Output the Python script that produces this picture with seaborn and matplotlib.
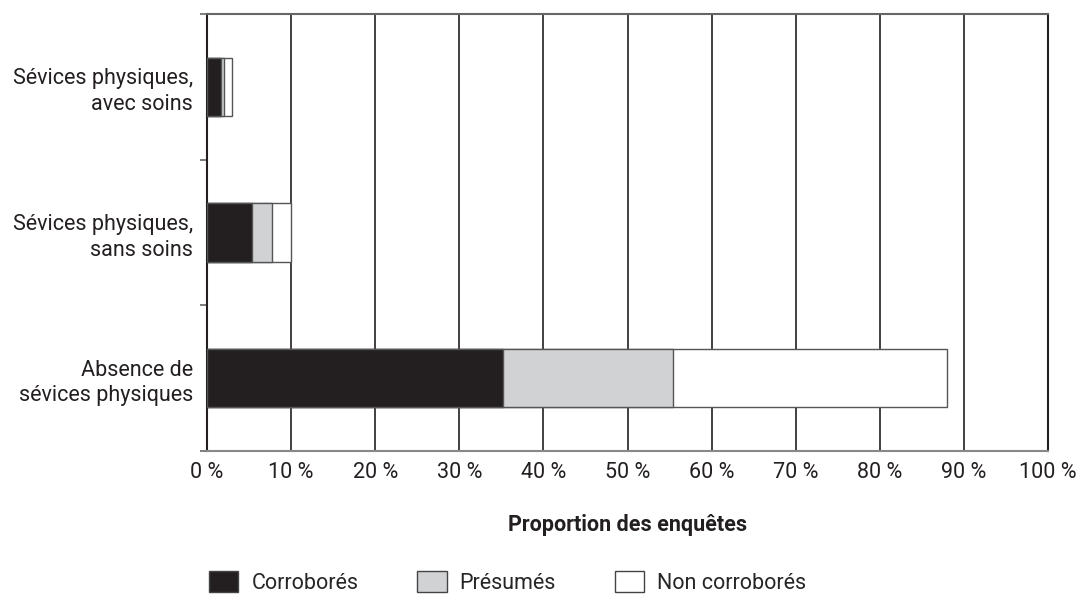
import matplotlib
matplotlib.use("Agg")
import matplotlib.pyplot as plt
import seaborn as sns
import pandas as pd
import numpy as np
from matplotlib.patches import Patch

categories = ["Sévices physiques,\navec soins", "Sévices physiques,\nsans soins",
              "Absence de\nsévices physiques"]
corrobores = [1.7, 5.4, 35.2]
presumes = [0.3, 2.3, 20.2]
non_corrobores = [1.0, 2.3, 32.6]
series_names = ["Corroborés", "Présumés", "Non corroborés"]
series_colors = ["#231f20", "#d1d2d4", "#ffffff"]
xticks = list(range(0, 101, 10))
xtick_labels = [f"{v} %" for v in xticks]

sns.set_theme(style="white")
plt.rcParams['font.family'] = ['Roboto', 'DejaVu Sans']

df = pd.DataFrame({"cat": categories, "c": corrobores, "p": presumes, "n": non_corrobores})
df["cum1"] = df["c"]
df["cum2"] = df["c"] + df["p"]
df["cum3"] = df["c"] + df["p"] + df["n"]

fig = plt.figure(figsize=(10.79, 5.98), dpi=100)
ax = fig.add_axes([207/1079, 1-451/598, (1048-207)/1079, (451-14)/598])

for col, color in zip(["cum3", "cum2", "cum1"], series_colors[::-1]):
    sns.barplot(data=df, x=col, y="cat", orient="h", color=color, width=0.4,
                edgecolor="#555555", linewidth=1.0, saturation=1, ax=ax, zorder=3)

FS = 15.5
ax.set_xlim(0, 100)
ax.set_ylim(2.5, -0.5)
ax.set_xticks(xticks)
ax.set_xticklabels(xtick_labels, fontsize=FS)
ax.set_yticks([-0.5, 0.5, 1.5, 2.5], minor=False)
ax.set_yticklabels([])
ax.set_yticks([0, 1, 2], minor=True)
ax.set_yticklabels(categories, minor=True, fontsize=FS, ha="right", linespacing=1.3)
ax.tick_params(axis="y", which="minor", length=0, pad=10)
ax.tick_params(axis="y", which="major", length=5, width=1.2, color="#666666", direction="out", left=True)
ax.tick_params(axis="x", length=0, pad=8, colors="#231f20")
ax.xaxis.grid(True, color="#231f20", linewidth=1.2, zorder=0)
ax.set_axisbelow(True)
ax.set_xlabel("Proportion des enquêtes", fontsize=FS, fontweight="bold", labelpad=22, color="#231f20")
ax.set_ylabel("")
for lbl in ax.get_yticklabels(minor=True):
    lbl.set_color("#231f20")

ax.spines["top"].set_color("#666666")
ax.spines["top"].set_linewidth(1.5)
ax.spines["bottom"].set_color("#888888")
ax.spines["bottom"].set_linewidth(1.5)
ax.spines["left"].set_color("#231f20")
ax.spines["left"].set_linewidth(1.5)
ax.spines["right"].set_color("#231f20")
ax.spines["right"].set_linewidth(1.5)
for s in ax.spines.values():
    s.set_visible(True)

handles = [Patch(facecolor=c, edgecolor="#444444", linewidth=1.0) for c in series_colors]
fig.legend(handles, series_names, loc="lower left", bbox_to_anchor=(205/1079, 0.0),
           ncol=3, frameon=False, fontsize=FS, handlelength=1.35, handleheight=1.15,
           handletextpad=0.6, columnspacing=2.75, borderaxespad=0, borderpad=0.2)

fig.savefig("out.png", dpi=100)
